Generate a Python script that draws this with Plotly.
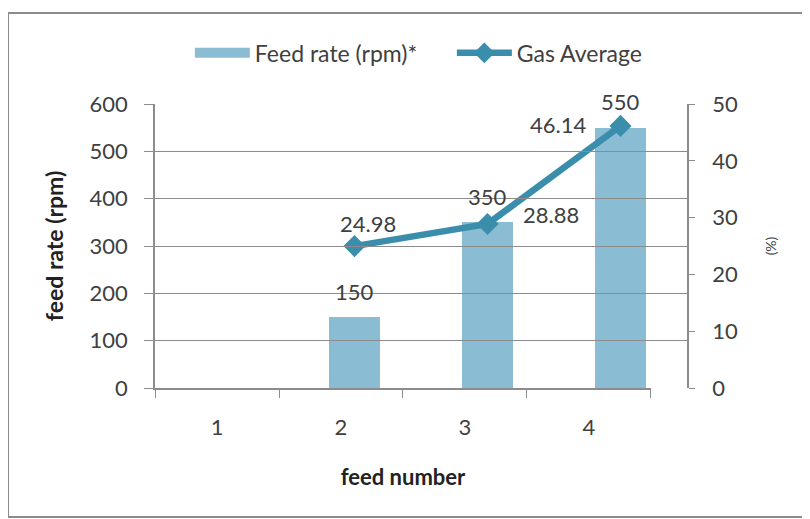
import plotly.graph_objects as go

categories = [1, 2, 3, 4]
tick_labels = ["1", "2", "3", "4"]
feed_rate = [0, 150, 350, 550]
gas_average = [None, 24.98, 28.88, 46.14]
left_ticks = [0, 100, 200, 300, 400, 500, 600]
right_ticks = [0, 10, 20, 30, 40, 50]

BAR_COLOR = "#8ABDD3"
LINE_COLOR = "#3A8EAC"
TXT = "#404040"
FONT = "Lato, Open Sans, sans-serif"
FS = 22

fig = go.Figure()
fig.add_trace(go.Bar(
    x=categories, y=feed_rate, name="Feed rate (rpm)*",
    marker=dict(color=BAR_COLOR, line=dict(width=0)),
    width=0.39, xaxis="x", yaxis="y", showlegend=False,
))
# legend entry for the bars, drawn as a wide swatch like the original
fig.add_trace(go.Scatter(
    x=categories, y=[None] * len(categories), name="Feed rate (rpm)*",
    mode="lines", line=dict(color=BAR_COLOR, width=11),
    xaxis="x", yaxis="y", hoverinfo="skip",
))
fig.add_trace(go.Scatter(
    x=categories, y=gas_average, name="Gas Average", mode="lines+markers",
    line=dict(color=LINE_COLOR, width=6.5),
    marker=dict(symbol="diamond", size=17, color=LINE_COLOR),
    xaxis="x", yaxis="y2",
))
# empty helper trace so the category (label) axis is drawn
fig.add_trace(go.Scatter(
    x=categories, y=[None] * len(categories), xaxis="x2", yaxis="y",
    showlegend=False, hoverinfo="skip", mode="markers",
))

annotations = []
for c, v in zip(categories, feed_rate):
    if v:
        annotations.append(dict(x=c, y=v, xref="x", yref="y", text=str(v),
                                showarrow=False, yshift=26,
                                font=dict(size=FS, color=TXT, family=FONT)))
offsets = [(0, 0), (13, 23), (63, 9), (-63, 1)]
for c, v, (dx, dy) in zip(categories, gas_average, offsets):
    if v is not None:
        annotations.append(dict(x=c, y=v, xref="x", yref="y2", text=f"{v:.2f}",
                                showarrow=False, xshift=dx, yshift=dy,
                                font=dict(size=FS, color=TXT, family=FONT)))

fig.update_layout(
    width=810, height=519,
    margin=dict(l=147, r=131, t=96, b=139, autoexpand=False),
    paper_bgcolor="white", plot_bgcolor="rgba(0,0,0,0)",
    font=dict(family=FONT, color=TXT, size=FS),
    bargap=0,
    showlegend=True,
    legend=dict(orientation="h", x=0.558, y=1.18, xanchor="center", yanchor="middle",
                font=dict(size=23, color=TXT), itemwidth=55, entrywidth=192,
                bgcolor="rgba(0,0,0,0)"),
    xaxis=dict(domain=[0, 1], range=[0.5, 4.5], showticklabels=False, ticks="",
               showgrid=False, showline=False, zeroline=False),
    xaxis2=dict(domain=[0, 0.9323], range=[0.5, 4.5], anchor="y",
                tickvals=categories, ticktext=tick_labels, ticks="",
                minor=dict(tickvals=[0.5, 1.5, 2.5, 3.5, 4.5], ticks="outside",
                           ticklen=8, tickcolor="#8C8C8C", showgrid=False),
                showline=True, linecolor="#8C8C8C", linewidth=1.5,
                showgrid=False, zeroline=False, ticklabelstandoff=19,
                tickfont=dict(size=FS, color=TXT),
                title=dict(text="<b>feed number</b>", standoff=30,
                           font=dict(size=22, color="#222"))),
    yaxis=dict(range=[0, 600], tickvals=left_ticks, ticks="outside", ticklen=9,
               tickcolor="#8C8C8C", showline=True, linecolor="#8C8C8C", linewidth=1.5,
               showgrid=True, gridcolor="#8C8C8C", gridwidth=1, zeroline=False,
               tickfont=dict(size=FS, color=TXT), ticklabelstandoff=12,
               title=dict(text="<b>feed rate (rpm)</b>", standoff=20,
                          font=dict(size=23, color="#222"))),
    yaxis2=dict(range=[0, 50], tickvals=right_ticks, overlaying="y", side="right",
                ticks="outside", ticklen=6, tickcolor="#8C8C8C",
                showline=True, linecolor="#8C8C8C", linewidth=1.5,
                showgrid=False, zeroline=False, ticklabelstandoff=13,
                tickfont=dict(size=FS, color=TXT),
                title=dict(text="(%)", standoff=29, font=dict(size=14, color=TXT))),
    annotations=annotations,
    shapes=[dict(type="rect", xref="paper", yref="paper",
                 x0=-0.2763, x1=1.2237, y0=-0.4542, y1=1.3204,
                 line=dict(color="#8C8C8C", width=2), fillcolor="rgba(0,0,0,0)",
                 layer="below")],
)

fig.write_html("out.html")
